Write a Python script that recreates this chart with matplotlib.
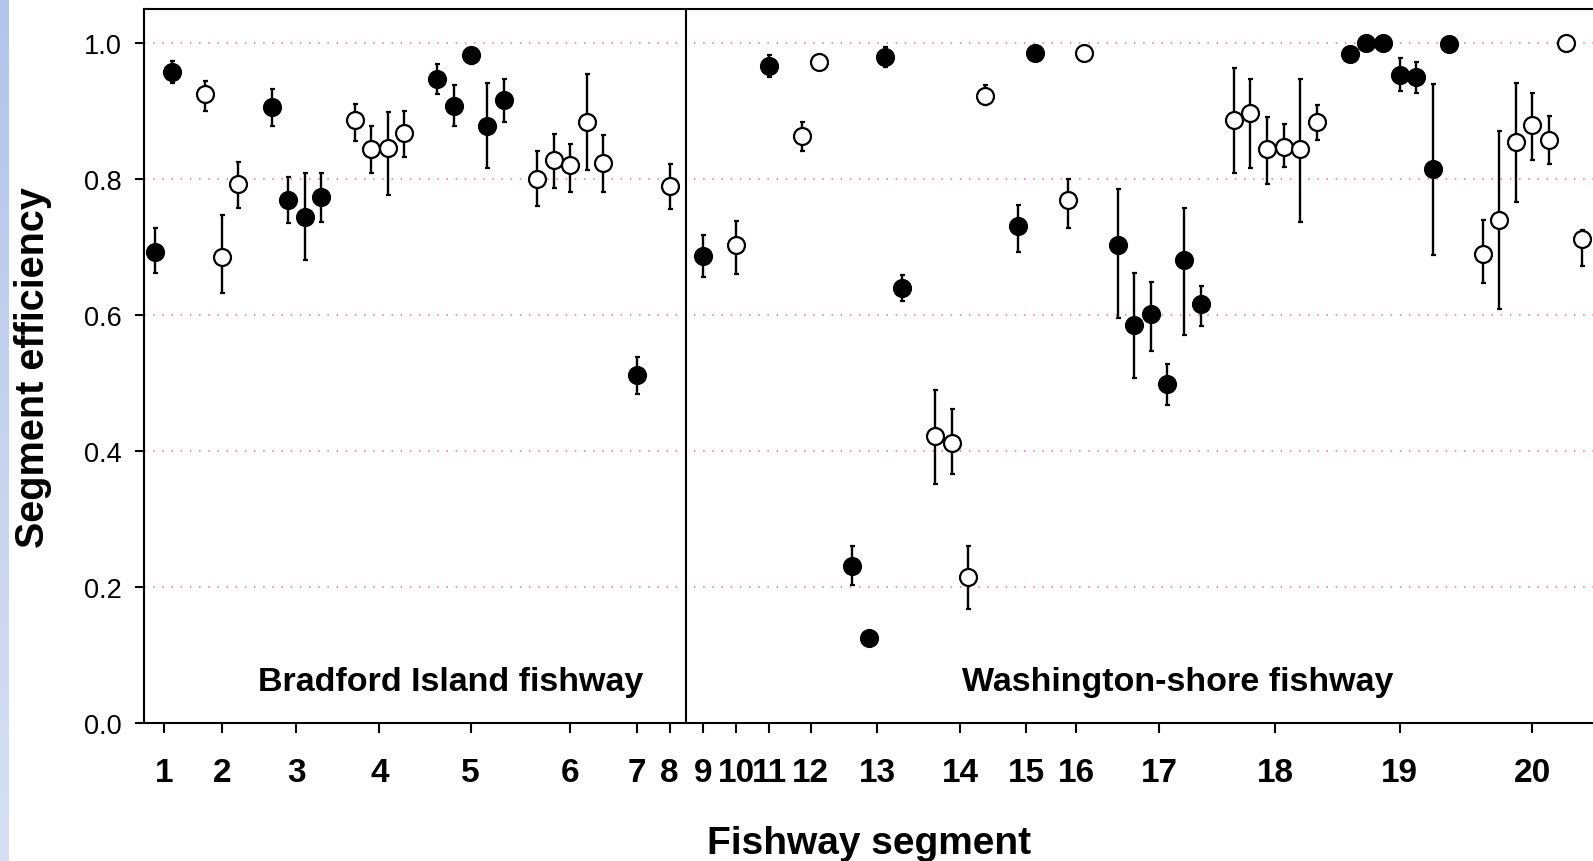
import numpy as np
import matplotlib
matplotlib.use('Agg')
import matplotlib.pyplot as plt

plt.rcParams['font.family'] = ['Liberation Sans', 'DejaVu Sans']

# segment of each point, in plotting order
segment = [1, 1,
           2, 2, 2,
           3, 3, 3, 3,
           4, 4, 4, 4,
           5, 5, 5, 5, 5,
           6, 6, 6, 6, 6,
           7, 8, 9, 10, 11,
           12, 12,
           13, 13, 13, 13,
           14, 14, 14, 14,
           15, 15,
           16, 16,
           17, 17, 17, 17, 17, 17,
           18, 18, 18, 18, 18, 18,
           19, 19, 19, 19, 19, 19, 19,
           20, 20, 20, 20, 20, 20, 20]

efficiency = [0.693, 0.957,
              0.924, 0.685, 0.792,
              0.905, 0.769, 0.744, 0.773,
              0.886, 0.843, 0.845, 0.867,
              0.946, 0.907, 0.982, 0.878, 0.915,
              0.800, 0.827, 0.820, 0.884, 0.823,
              0.512, 0.789, 0.686, 0.702, 0.966,
              0.862, 0.971,
              0.231, 0.126, 0.979, 0.639,
              0.422, 0.412, 0.215, 0.922,
              0.730, 0.984,
              0.769, 0.985,
              0.703, 0.585, 0.601, 0.498, 0.680, 0.616,
              0.886, 0.896, 0.843, 0.847, 0.843, 0.883,
              0.983, 1.000, 1.000, 0.953, 0.950, 0.814, 0.998,
              0.690, 0.740, 0.854, 0.879, 0.857, 1.000, 0.711]

lower = [0.661, 0.941,
         0.900, 0.632, 0.757,
         0.878, 0.735, 0.680, 0.736,
         0.856, 0.808, 0.776, 0.832,
         0.924, 0.877, 0.969, 0.815, 0.884,
         0.760, 0.786, 0.781, 0.813, 0.780,
         0.484, 0.755, 0.656, 0.660, 0.949,
         0.841, 0.971,
         0.203, 0.126, 0.964, 0.620,
         0.352, 0.367, 0.168, 0.908,
         0.693, 0.984,
         0.727, 0.985,
         0.595, 0.508, 0.547, 0.467, 0.571, 0.584,
         0.808, 0.816, 0.792, 0.817, 0.737, 0.857,
         0.983, 1.000, 1.000, 0.929, 0.926, 0.688, 0.998,
         0.647, 0.609, 0.766, 0.827, 0.821, 1.000, 0.672]

upper = [0.727, 0.973,
         0.944, 0.746, 0.824,
         0.932, 0.803, 0.809, 0.809,
         0.910, 0.878, 0.898, 0.899,
         0.969, 0.937, 0.990, 0.940, 0.947,
         0.840, 0.865, 0.851, 0.954, 0.864,
         0.538, 0.821, 0.718, 0.738, 0.982,
         0.884, 0.971,
         0.260, 0.126, 0.994, 0.659,
         0.489, 0.462, 0.260, 0.937,
         0.762, 0.984,
         0.800, 0.985,
         0.785, 0.662, 0.649, 0.528, 0.757, 0.643,
         0.962, 0.947, 0.891, 0.881, 0.947, 0.908,
         0.983, 1.000, 1.000, 0.978, 0.972, 0.939, 0.998,
         0.740, 0.870, 0.941, 0.926, 0.892, 1.000, 0.725]

segment_labels = [str(s) for s in range(1, 21)]
fishway_names = ['Bradford Island fishway', 'Washington-shore fishway']
last_bradford_segment = 8

# positions: consecutive slots, one empty slot between segments
seg = np.array(segment)
eff = np.array(efficiency)
lo = np.array(lower)
hi = np.array(upper)
pos = np.zeros(len(seg))
p = 0
for i in range(len(seg)):
    if i > 0 and seg[i] != seg[i - 1]:
        p += 2
    elif i > 0:
        p += 1
    pos[i] = p
centers = [pos[seg == s].mean() for s in range(1, 21)]
divider = (pos[seg == last_bradford_segment].max() + pos[seg == last_bradford_segment + 1].min()) / 2

fig = plt.figure(figsize=(15.93, 8.62), dpi=100)

# light blue strip at the left edge (slide background)
strip = fig.add_axes([0, 0, 0.0052, 1])
strip.imshow(np.linspace(0, 1, 100).reshape(-1, 1), aspect='auto',
             cmap=matplotlib.colors.LinearSegmentedColormap.from_list('s', ['#b2c6ea', '#d6e0f2']))
strip.axis('off')

ax = fig.add_axes([0.0906, 0.1596, 0.9234, 0.8286])
ax.set_xlim(-0.67, 88)
ax.set_ylim(0, 1.049)

for v in [0.2, 0.4, 0.6, 0.8, 1.0]:
    ax.axhline(v, color='#ec7474', lw=1.1, linestyle=(0, (1, 5)), zorder=1)

ax.axvline(divider, color='black', lw=1.5, zorder=2)

filled = seg % 2 == 1
for mask, face in [(filled, 'black'), (~filled, 'white')]:
    ax.errorbar(pos[mask], eff[mask],
                yerr=[eff[mask] - lo[mask], hi[mask] - eff[mask]],
                fmt='o', ms=12.2, mfc=face, mec='black', mew=1.6,
                ecolor='black', elinewidth=1.7, capsize=1.8, capthick=1.7,
                zorder=3)

ax.text((pos[0] + divider) / 2 + 1.8, 0.062, fishway_names[0], ha='center', va='center',
        fontsize=24.5, fontweight='bold')
ax.text((divider + pos[-1]) / 2 + 2.6, 0.062, fishway_names[1], ha='center', va='center',
        fontsize=24.5, fontweight='bold')

ax.set_xticks(centers)
ax.set_xticklabels(segment_labels, fontsize=24, fontweight='bold')
ax.set_yticks([0.0, 0.2, 0.4, 0.6, 0.8, 1.0])
ax.set_yticklabels(['0.0', '0.2', '0.4', '0.6', '0.8', '1.0'], fontsize=19.5)
ax.tick_params(axis='x', length=7, width=1.5, pad=17, direction='out')
ax.tick_params(axis='y', length=6.5, width=1.5, pad=10, direction='out')

for side in ['left', 'bottom', 'top', 'right']:
    ax.spines[side].set_linewidth(1.5)

ax.set_xlabel('Fishway segment', fontsize=28, fontweight='bold', va='center')
ax.xaxis.set_label_coords(0.4927, -0.168)
ax.set_ylabel('Segment efficiency', fontsize=28.5, fontweight='bold', va='center')
ax.yaxis.set_label_coords(-0.0755, 0.5)

fig.savefig('out.png', dpi=100)
